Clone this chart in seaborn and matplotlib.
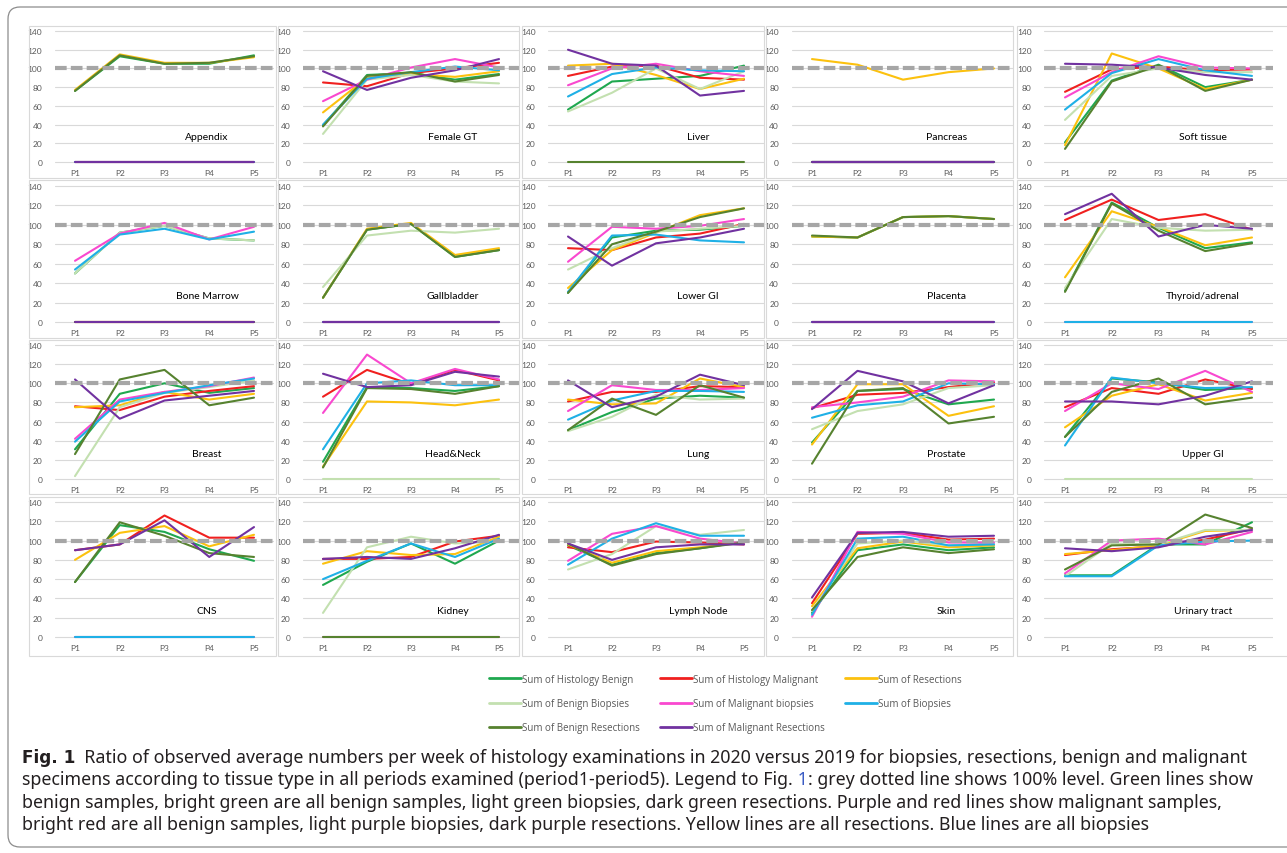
import numpy as np
import pandas as pd
import seaborn as sns
import matplotlib.pyplot as plt
from matplotlib.patches import Rectangle, FancyBboxPatch
from matplotlib.lines import Line2D

PERIODS = ["P1", "P2", "P3", "P4", "P5"]
SERIES = ["Sum of Histology Benign", "Sum of Histology Malignant", "Sum of Resections",
          "Sum of Benign Biopsies", "Sum of Malignant biopsies", "Sum of Biopsies",
          "Sum of Benign Resections", "Sum of Malignant Resections"]
COLORS = ["#1fa84f", "#f0201f", "#fcc10e", "#c3e0b0", "#f948cf", "#1fb0e6", "#56822f", "#7132a0"]

Z = [0, 0, 0, 0, 0]

# one row per series, same order as SERIES
appendix = [[76, 113, 105, 105, 114], Z, [77, 115, 106, 106, 112], Z, Z, Z,
            [76, 114, 105, 106, 113], Z]
female_gt = [[39, 93, 95, 88, 94], [85, 81, 95, 100, 106], [53, 90, 94, 91, 97],
             [30, 88, 93, 86, 84], [65, 88, 101, 110, 101], [40, 89, 96, 102, 98],
             [38, 92, 96, 86, 93], [97, 77, 90, 98, 110]]
liver = [[56, 86, 89, 92, 103], [92, 102, 103, 90, 88], [103, 105, 93, 78, 89],
         [54, 74, 100, 78, 97], [82, 100, 105, 97, 92], [70, 94, 101, 98, 97],
         Z, [120, 105, 103, 71, 76]]
pancreas = [Z, Z, [110, 104, 88, 96, 100], Z, Z, Z, Z, Z]
soft_tissue = [[21, 87, 104, 80, 88], [75, 99, 102, 98, 99], [18, 116, 100, 78, 88],
               [45, 92, 100, 96, 96], [69, 96, 113, 101, 100], [56, 95, 110, 98, 92],
               [14, 86, 103, 76, 88], [105, 104, 101, 93, 88]]

bone_marrow = [[50, 92, 99, 86, 84], Z, Z, [50, 92, 99, 86, 84],
               [63, 91, 102, 85, 98], [54, 90, 96, 85, 93], Z, Z]
gallbladder = [[25, 95, 101, 67, 74], Z, [25, 96, 102, 69, 76], [36, 89, 94, 92, 96],
               Z, Z, [25, 95, 101, 67, 74], Z]
lower_gi = [[30, 87, 94, 95, 99], [76, 74, 87, 91, 101], [35, 74, 92, 110, 117],
            [54, 76, 93, 96, 99], [62, 98, 96, 99, 106], [31, 89, 90, 84, 82],
            [30, 80, 93, 108, 117], [88, 58, 81, 87, 96]]
placenta = [[88, 87, 108, 109, 106], Z, [88, 87, 108, 109, 106], Z, Z, Z,
            [89, 87, 108, 109, 106], Z]
thyroid = [[32, 123, 97, 76, 82], [105, 126, 105, 111, 95], [46, 114, 98, 79, 87],
           [35, 106, 97, 94, 95], Z, Z, [31, 122, 94, 73, 81], [111, 132, 88, 100, 96]]

breast = [[31, 89, 100, 90, 95], [76, 72, 86, 92, 97], [75, 77, 91, 83, 89],
          [3, 75, 90, 96, 103], [42, 83, 91, 97, 106], [39, 81, 90, 98, 105],
          [26, 104, 114, 77, 85], [104, 63, 82, 87, 92]]
head_neck = [[18, 96, 95, 92, 97], [86, 114, 99, 114, 103], [13, 81, 80, 77, 83], Z,
             [69, 130, 100, 115, 104], [31, 100, 103, 98, 98], [12, 95, 94, 89, 97],
             [110, 96, 98, 112, 107]]
lung = [[51, 70, 84, 87, 85], [81, 91, 91, 97, 96], [83, 78, 79, 105, 96],
        [50, 65, 88, 83, 84], [71, 98, 93, 93, 95], [62, 82, 92, 92, 91],
        [51, 84, 67, 98, 85], [103, 75, 86, 109, 98]]
prostate = [[38, 92, 94, 78, 83], [74, 88, 90, 96, 101], [36, 99, 99, 66, 76],
            [52, 71, 78, 95, 98], [75, 80, 86, 103, 102], [64, 77, 81, 100, 99],
            [16, 92, 95, 58, 65], [73, 113, 102, 79, 98]]
upper_gi = [[44, 105, 101, 93, 95], [75, 95, 89, 104, 94], [54, 87, 99, 82, 90], Z,
            [71, 100, 94, 113, 91], [35, 106, 100, 95, 96], [44, 91, 105, 78, 85],
            [81, 81, 78, 87, 102]]

cns = [[57, 116, 109, 91, 79], [90, 96, 126, 103, 103], [80, 108, 115, 94, 106], Z, Z, Z,
       [57, 119, 105, 87, 83], [90, 96, 121, 83, 114]]
kidney = [[54, 78, 97, 76, 100], [81, 81, 83, 99, 105], [76, 89, 85, 86, 104],
          [25, 93, 104, 97, 99], Z, [60, 79, 97, 83, 102], Z, [81, 83, 81, 92, 106]]
lymph_node = [[95, 75, 87, 92, 99], [93, 88, 99, 98, 96], [96, 77, 89, 93, 98],
              [70, 86, 115, 106, 111], [79, 107, 115, 102, 97], [75, 102, 118, 105, 105],
              [97, 74, 86, 92, 98], [97, 80, 93, 96, 96]]
skin = [[25, 90, 96, 90, 93], [35, 107, 108, 101, 102], [32, 92, 99, 93, 95],
        [27, 97, 100, 95, 97], [21, 109, 107, 98, 98], [23, 102, 104, 95, 96],
        [28, 83, 93, 87, 91], [41, 108, 109, 104, 105]]
urinary_tract = [[64, 64, 96, 96, 119], [85, 91, 94, 101, 112], [86, 90, 95, 110, 111],
                 [63, 97, 96, 111, 111], [66, 100, 102, 96, 109], [63, 63, 95, 99, 100],
                 [70, 95, 96, 127, 113], [92, 89, 93, 104, 111]]

TISSUES = ["Appendix", "Female GT", "Liver", "Pancreas", "Soft tissue",
           "Bone Marrow", "Gallbladder", "Lower GI", "Placenta", "Thyroid/adrenal",
           "Breast", "Head&Neck", "Lung", "Prostate", "Upper GI",
           "CNS", "Kidney", "Lymph Node", "Skin", "Urinary tract"]
PANELS = [appendix, female_gt, liver, pancreas, soft_tissue,
          bone_marrow, gallbladder, lower_gi, placenta, thyroid,
          breast, head_neck, lung, prostate, upper_gi,
          cns, kidney, lymph_node, skin, urinary_tract]
REF_LEVEL = 100

CAPTION = [
    [("Fig. 1", "#231f20", "bold"), ("  Ratio of observed average numbers per week of histology examinations in 2020 versus 2019 for biopsies, resections, benign and malignant", "#231f20", "normal")],
    [("specimens according to tissue type in all periods examined (period1-period5). Legend to Fig.", "#231f20", "normal"), (" 1", "#3b5cc4", "normal"), (": grey dotted line shows 100% level. Green lines show", "#231f20", "normal")],
    [("benign samples, bright green are all benign samples, light green biopsies, dark green resections. Purple and red lines show malignant samples,", "#231f20", "normal")],
    [("bright red are all benign samples, light purple biopsies, dark purple resections. Yellow lines are all resections. Blue lines are all biopsies", "#231f20", "normal")],
]

sns.set_theme(style="white")
plt.rcParams["font.family"] = ["Lato", "DejaVu Sans"]

W, H = 1287, 854
fig = plt.figure(figsize=(W / 100, H / 100), dpi=100)

# pixel layout of the 4 x 5 grid of small charts
col_p1 = [75, 323, 568, 812, 1065]
col_p5 = [254, 499, 744, 994, 1252]
row_top = [32, 187, 346, 503]
row_zero = [163, 323, 480, 638]
frame_x = [(29, 276), (278, 519), (522, 764), (766, 1013), (1017, 1290)]
frame_y = [(27, 179), (181, 339), (341, 495), (498, 657)]

palette = dict(zip(SERIES, COLORS))

for i, (name, panel) in enumerate(zip(TISSUES, PANELS)):
    r, c = divmod(i, 5)
    sp = (col_p5[c] - col_p1[c]) / 4
    left = col_p1[c] - 0.45 * sp
    right = col_p5[c] + 0.45 * sp
    ppu = (row_zero[r] - row_top[r]) / 140
    top = row_top[r] - 2 * ppu
    bot = row_zero[r] + 2 * ppu
    ax = fig.add_axes([left / W, 1 - bot / H, (right - left) / W, (bot - top) / H])

    df = pd.DataFrame([(s, j, v) for s, vals in zip(SERIES, panel) for j, v in enumerate(vals)],
                      columns=["series", "x", "value"])
    sns.lineplot(data=df, x="x", y="value", hue="series", hue_order=SERIES, palette=palette,
                 estimator=None, sort=False, legend=False, linewidth=1.5, ax=ax)
    ax.axhline(REF_LEVEL, color="#a6a6a6", lw=3, ls=(0, (2.8, 1.0)), zorder=5)

    ax.set_xlim(-0.45, 4.45)
    ax.set_ylim(-2, 142)
    ax.set_xticks(range(5))
    ax.set_xticklabels(PERIODS)
    ax.set_yticks(range(0, 141, 20))
    ax.grid(axis="y", color="#d9d9d9", lw=0.8)
    ax.grid(axis="x", visible=False)
    ax.set_axisbelow(True)
    for s in ax.spines.values():
        s.set_visible(False)
    ax.tick_params(length=0, labelsize=6, labelcolor="#595959")
    ax.tick_params(axis="x", pad=4)
    ax.tick_params(axis="y", pad=9)
    ax.set_xlabel("")
    ax.set_ylabel("")
    ax.text(2.95, 27, name, fontsize=7.5, ha="center", va="center", color="black")

    x0, x1 = frame_x[c]
    y0, y1 = frame_y[r]
    fig.add_artist(Rectangle((x0 / W, 1 - y1 / H), (x1 - x0) / W, (y1 - y0) / H,
                             transform=fig.transFigure, fill=False, ec="#d9d9d9", lw=0.8))

# legend, filled row by row like the original
order = [0, 3, 6, 1, 4, 7, 2, 5]
handles = [Line2D([], [], color=COLORS[k], lw=2) for k in order]
labels = [SERIES[k] for k in order]
fig.legend(handles, labels, ncol=3, loc="upper left", bbox_to_anchor=(484 / W, 1 - 670 / H),
           frameon=False, handlelength=3.3, handletextpad=0.15,
           columnspacing=2.0, labelspacing=1.35, borderpad=0, labelcolor="#595959",
           prop={"family": ["Open Sans", "DejaVu Sans"], "size": 7})

# rounded outline of the figure box
fig.add_artist(FancyBboxPatch((0.08, 0.06), 12.95, 8.40,
                              boxstyle="round,pad=0,rounding_size=0.12",
                              transform=fig.dpi_scale_trans, fill=False, ec="#8c8c8c", lw=0.9))

# caption, in a condensed face when one is installed
renderer = fig.canvas.get_renderer()


def put_line(pieces, x, y, size):
    texts = []
    for s, color, weight in pieces:
        if weight == "bold":
            kw = dict(family=["DejaVu Sans"], fontweight="bold", fontsize=size * 0.95)
        else:
            kw = dict(family=["Noto Sans", "DejaVu Sans"], fontstretch="condensed", fontsize=size)
        t = fig.text(x / W, 1 - y / H, s, color=color, va="center", ha="left", **kw)
        texts.append(t)
        x += t.get_window_extent(renderer).width
    return x, texts


end, tmp = put_line(CAPTION[1], 22, 780, 10)
for t in tmp:
    t.remove()
cap_size = min(12.8, 10 * (1280 - 22) / (end - 22))

for pieces, y in zip(CAPTION, [758, 780, 803, 825]):
    put_line(pieces, 22, y, cap_size)

fig.savefig("out.png", dpi=100)
